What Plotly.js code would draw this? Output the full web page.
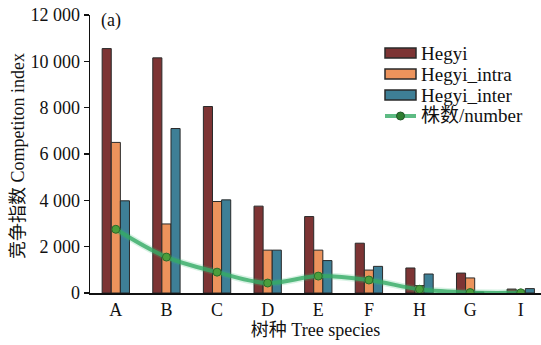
<!DOCTYPE html>
<html>
<head>
<meta charset="utf-8">
<script src="https://cdn.plot.ly/plotly-3.0.1.min.js"></script>
<style>html,body{margin:0;padding:0;background:#fff;}#chart{width:541px;height:345px;}</style>
</head>
<body>
<div id="chart"></div>
<script>
const species = ['A', 'B', 'C', 'D', 'E', 'F', 'H', 'G', 'I'];
const hegyi = [10550, 10150, 8050, 3750, 3300, 2150, 1080, 860, 170];
const hegyiIntra = [6500, 2980, 3950, 1850, 1850, 990, 320, 650, 90];
const hegyiInter = [3980, 7100, 4020, 1850, 1400, 1150, 820, 40, 190];
const numberTrees = [2750, 1550, 900, 430, 730, 560, 160, 20, 10];
const seriesNames = ['Hegyi', 'Hegyi_intra', 'Hegyi_inter', '株数/number'];
const yTitle = '竞争指数 Competiton index';
const xTitle = '树种 Tree species';

const FONT = '"Liberation Serif", "Times New Roman", "Noto Sans CJK SC", serif';
const colors = ['#7d3434', '#ec935c', '#3e7f96'];
const lineColor = 'rgba(52,170,100,0.8)';
const edge = '#2a2a2a';

function bar(name, y, c) {
  return {type: 'bar', name: name, x: species, y: y, showlegend: false,
    marker: {color: c, line: {color: edge, width: 1}}};
}
const traces = [
  bar(seriesNames[0], hegyi, colors[0]),
  bar(seriesNames[1], hegyiIntra, colors[1]),
  bar(seriesNames[2], hegyiInter, colors[2]),
  {type: 'scatter', mode: 'lines', x: species, y: numberTrees, showlegend: false,
   line: {shape: 'spline', smoothing: 1, color: 'rgba(60,190,120,0.2)', width: 7}, hoverinfo: 'skip'},
  {type: 'scatter', mode: 'lines+markers', name: seriesNames[3], x: species, y: numberTrees, showlegend: false,
   line: {shape: 'spline', smoothing: 1, color: lineColor, width: 4},
   marker: {size: 8, color: '#4a9e3c', line: {color: '#2b6a2b', width: 1}}}
];

// custom legend (paper coords from pixel positions)
const L = 90, W = 451, B = 293, H = 278;
const px = v => (v - L) / W;
const py = v => (B - v) / H;
const shapes = [];
const annotations = [];
const rowY = [53, 74, 95, 116];
for (let i = 0; i < 3; i++) {
  shapes.push({type: 'rect', xref: 'paper', yref: 'paper',
    x0: px(385), x1: px(416), y0: py(rowY[i] + 5), y1: py(rowY[i] - 5),
    fillcolor: colors[i], line: {color: edge, width: 1.5}});
}
shapes.push({type: 'line', xref: 'paper', yref: 'paper',
  x0: px(385), x1: px(416), y0: py(rowY[3]), y1: py(rowY[3]),
  line: {color: lineColor, width: 4}});
shapes.push({type: 'circle', xref: 'paper', yref: 'paper',
  x0: px(396.5), x1: px(404.5), y0: py(rowY[3] + 4), y1: py(rowY[3] - 4),
  fillcolor: '#2f7d2f', line: {color: '#22552a', width: 1}});
for (let i = 0; i < 4; i++) {
  annotations.push({xref: 'paper', yref: 'paper', x: px(419), y: py(rowY[i]),
    xanchor: 'left', yanchor: 'middle', showarrow: false, text: seriesNames[i],
    font: {family: FONT, size: 19, color: '#111'}});
}
annotations.push({xref: 'paper', yref: 'paper', x: px(99), y: py(20),
  xanchor: 'left', yanchor: 'middle', showarrow: false, text: '(a)',
  font: {family: FONT, size: 18, color: '#111'}});
annotations.push({xref: 'paper', yref: 'paper', x: px(18), y: py(156),
  xanchor: 'center', yanchor: 'middle', showarrow: false, text: yTitle, textangle: -90,
  font: {family: FONT, size: 18, color: '#111'}});

const layout = {
  width: 541, height: 345,
  margin: {l: 90, r: 0, t: 15, b: 52},
  paper_bgcolor: '#fff', plot_bgcolor: '#fff',
  barmode: 'group', bargap: 0.46, bargroupgap: 0,
  separators: '. ',
  font: {family: FONT, size: 17, color: '#111'},
  showlegend: false,
  xaxis: {range: [-0.51, 8.4], showline: true, linecolor: '#111', linewidth: 1.5,
    ticks: '', showgrid: false, zeroline: false,
    tickfont: {family: FONT, size: 18, color: '#111'},
    title: {text: xTitle, font: {family: FONT, size: 18, color: '#111'}, standoff: 4}},
  yaxis: {range: [0, 12000], dtick: 2000, tickformat: ',d', separatethousands: true,
    showline: true, linecolor: '#111', linewidth: 1.5,
    ticks: 'outside', ticklen: 5, tickwidth: 1.2, tickcolor: '#111',
    showgrid: false, zeroline: false,
    tickfont: {family: FONT, size: 18, color: '#111'}},
  shapes: shapes,
  annotations: annotations
};

Plotly.newPlot('chart', traces, layout, {displayModeBar: false, staticPlot: true});
</script>
</body>
</html>
